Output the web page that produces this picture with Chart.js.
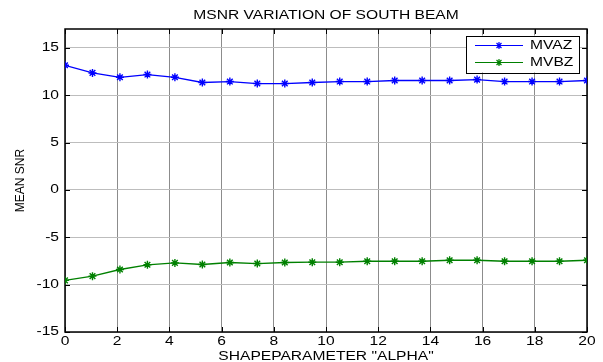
<!DOCTYPE html>
<html>
<head>
<meta charset="utf-8">
<title>MSNR VARIATION OF SOUTH BEAM</title>
<script src="https://cdn.jsdelivr.net/npm/chart.js@4/dist/chart.umd.min.js"></script>
<style>
  html, body { margin: 0; padding: 0; background: #fff; }
  canvas { display: block; }
</style>
</head>
<body>
<canvas id="c" width="603" height="362"></canvas>
<script>
// Shape parameter samples (20 evenly spaced values from 0 to 20)
const alphaValues = [0, 1.053, 2.105, 3.158, 4.211, 5.263, 6.316, 7.368, 8.421, 9.474,
                     10.526, 11.579, 12.632, 13.684, 14.737, 15.789, 16.842, 17.895, 18.947, 20];
const mvazValues = [13.17, 12.36, 11.90, 12.19, 11.90, 11.35, 11.45, 11.24, 11.24, 11.35,
                    11.45, 11.45, 11.56, 11.56, 11.56, 11.66, 11.45, 11.45, 11.45, 11.56];
const mvbzValues = [-9.55, -9.10, -8.40, -7.90, -7.70, -7.87, -7.66, -7.77, -7.66, -7.63,
                    -7.63, -7.53, -7.53, -7.53, -7.42, -7.42, -7.53, -7.53, -7.53, -7.42];
const xTickValues = [0, 2, 4, 6, 8, 10, 12, 14, 16, 18, 20];
const yTickValues = [-15, -10, -5, 0, 5, 10, 15];
const seriesNames = ['MVAZ', 'MVBZ'];
const titleText = 'MSNR VARIATION OF SOUTH BEAM';
const xAxisTitle = 'SHAPEPARAMETER "ALPHA"';
const yAxisTitle = 'MEAN SNR';

const FONT = '"Liberation Sans", Arial, Helvetica, sans-serif';
const TEXT_SIZE = 12;
const STRETCH = 1.3;   // horizontally widened lettering

function toPoints(ys) { return ys.map((y, i) => ({ x: alphaValues[i], y })); }

function drawLabel(ctx, text, x, y, align, size, sx) {
  ctx.save();
  ctx.font = size + 'px ' + FONT;
  ctx.fillStyle = '#000';
  ctx.textAlign = align;
  ctx.textBaseline = 'middle';
  ctx.translate(x, y);
  ctx.scale(sx, 1);
  ctx.fillText(text, 0, 0);
  ctx.restore();
}

// Axes frame with inward tick marks on all four sides
const framePlugin = {
  id: 'frame',
  beforeDatasetsDraw(chart) {
    const { ctx, chartArea: a, scales } = chart;
    ctx.save();
    ctx.strokeStyle = '#000';
    ctx.lineWidth = 1;
    const tl = 5;
    ctx.beginPath();
    xTickValues.forEach(v => {
      const px = Math.round(scales.x.getPixelForValue(v)) + 0.5;
      ctx.moveTo(px, a.bottom); ctx.lineTo(px, a.bottom - tl);
      ctx.moveTo(px, a.top); ctx.lineTo(px, a.top + tl);
    });
    yTickValues.forEach(v => {
      const py = Math.round(scales.y.getPixelForValue(v)) + 0.5;
      ctx.moveTo(a.left, py); ctx.lineTo(a.left + tl, py);
      ctx.moveTo(a.right, py); ctx.lineTo(a.right - tl, py);
    });
    ctx.stroke();
    ctx.lineWidth = 1.5;
    ctx.strokeRect(a.left, a.top, a.right - a.left, a.bottom - a.top);
    ctx.restore();
  }
};

// Title, tick labels, axis titles and boxed legend
const textPlugin = {
  id: 'texts',
  afterDraw(chart) {
    const { ctx, chartArea: a, scales } = chart;
    const cx = (a.left + a.right) / 2;
    const cy = (a.top + a.bottom) / 2;

    drawLabel(ctx, titleText, cx, 16, 'center', TEXT_SIZE, STRETCH);

    xTickValues.forEach(v => {
      drawLabel(ctx, String(v), scales.x.getPixelForValue(v), a.bottom + 10, 'center', TEXT_SIZE, STRETCH);
    });
    yTickValues.forEach(v => {
      drawLabel(ctx, String(v), a.left - 6, scales.y.getPixelForValue(v), 'right', TEXT_SIZE, STRETCH);
    });

    drawLabel(ctx, xAxisTitle, cx, a.bottom + 25, 'center', TEXT_SIZE, STRETCH);

    ctx.save();
    ctx.translate(20.5, cy);
    ctx.rotate(-Math.PI / 2);
    ctx.font = '12px ' + FONT;
    ctx.fillStyle = '#000';
    ctx.textAlign = 'center';
    ctx.textBaseline = 'middle';
    ctx.fillText(yAxisTitle, 0, 0);
    ctx.restore();

    // legend box
    const bw = 113, bh = 37;
    const bx = a.right - 8 - bw, by = a.top + 6.5;
    ctx.save();
    ctx.fillStyle = '#fff';
    ctx.fillRect(bx, by, bw, bh);
    ctx.strokeStyle = '#000';
    ctx.lineWidth = 1;
    ctx.strokeRect(Math.round(bx) + 0.5, Math.round(by) + 0.5, bw, bh);
    chart.data.datasets.forEach((ds, i) => {
      const ry = by + 10 + i * 17;
      ctx.strokeStyle = ds.borderColor;
      ctx.lineWidth = 1.2;
      ctx.beginPath();
      ctx.moveTo(bx + 9, ry); ctx.lineTo(bx + 57, ry);
      ctx.stroke();
      Chart.helpers.drawPoint(ctx, { pointStyle: 'star', radius: 3.5, borderWidth: 1.3, rotation: 0 }, bx + 33, ry);
      drawLabel(ctx, ds.label, bx + 64, ry + 0.5, 'left', TEXT_SIZE, STRETCH);
    });
    ctx.restore();
  }
};

const makeSet = (label, values, color) => ({
  label,
  data: toPoints(values),
  borderColor: color,
  backgroundColor: color,
  borderWidth: 1.3,
  pointStyle: 'star',
  pointRadius: 4,
  pointBorderWidth: 1.4,
  pointBorderColor: color,
  pointHoverRadius: 4,
  tension: 0,
  fill: false
});

new Chart(document.getElementById('c'), {
  type: 'line',
  data: {
    datasets: [
      makeSet(seriesNames[0], mvazValues, '#0000ff'),
      makeSet(seriesNames[1], mvbzValues, '#008000')
    ]
  },
  options: {
    responsive: false,
    animation: false,
    devicePixelRatio: 1,
    layout: { padding: { top: 29, right: 16, bottom: 0, left: 0 } },
    plugins: { legend: { display: false }, title: { display: false }, tooltip: { enabled: false } },
    scales: {
      x: {
        type: 'linear',
        min: 0, max: 20,
        afterBuildTicks: s => { s.ticks = xTickValues.map(v => ({ value: v })); },
        afterFit: s => { s.height = 30; },
        ticks: { display: false },
        border: { display: false },
        grid: { color: '#8c8c8c', lineWidth: 1, drawTicks: false }
      },
      y: {
        type: 'linear',
        min: -15, max: 17,
        afterBuildTicks: s => { s.ticks = yTickValues.map(v => ({ value: v })); },
        afterFit: s => { s.width = 65; },
        ticks: { display: false },
        border: { display: false },
        grid: { color: '#bdbdbd', lineWidth: 1, drawTicks: false }
      }
    }
  },
  plugins: [framePlugin, textPlugin]
});
</script>
</body>
</html>
